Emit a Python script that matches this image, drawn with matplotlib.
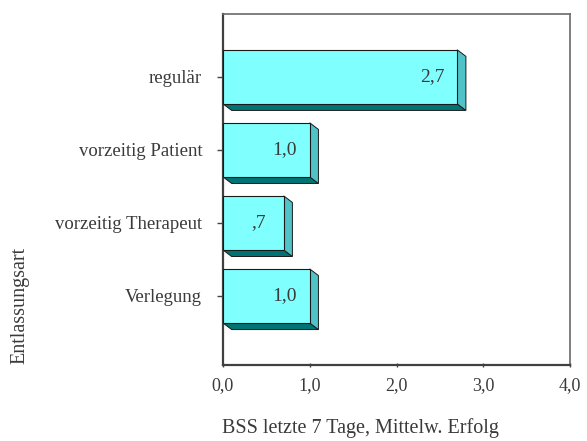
import matplotlib
matplotlib.use("Agg")
import matplotlib.pyplot as plt
from matplotlib.patches import Polygon

# Mittelwerte BSS je Entlassungsart
categories = ["regulär", "vorzeitig Patient", "vorzeitig Therapeut", "Verlegung"]
values = [2.7, 1.0, 0.7, 1.0]
labels = ["2,7", "1,0", ",7", "1,0"]
xticks = [0.0, 1.0, 2.0, 3.0, 4.0]
xticklabels = ["0,0", "1,0", "2,0", "3,0", "4,0"]

plt.rcParams['font.family'] = ['Liberation Serif', 'DejaVu Serif']
textcol = '#3a3a3a'

fig = plt.figure(figsize=(5.87, 4.41), dpi=100)
ax = fig.add_axes([223/587, 1 - 365/441, 347/587, 351/441])

pos = list(range(len(categories)))[::-1]
h = 0.74
dx, dy = 0.1, 0.09   # Tiefe der 3D-Balken

for y, v, lab in zip(pos, values, labels):
    top, bot = y + h/2, y - h/2
    # Unterseite
    ax.add_patch(Polygon([(0, bot), (v, bot), (v + dx, bot - dy), (dx, bot - dy)],
                         closed=True, facecolor='#007474', edgecolor='#1a1a1a',
                         linewidth=0.7, zorder=2))
    # rechte Seite
    ax.add_patch(Polygon([(v, top), (v + dx, top - dy), (v + dx, bot - dy), (v, bot)],
                         closed=True, facecolor='#4fc3c8', edgecolor='#1a1a1a',
                         linewidth=0.7, zorder=2))
    ax.barh(y, v, height=h, color='#80ffff', edgecolor='#1a1a1a',
            linewidth=0.8, zorder=3)
    ax.text(v - 0.29, y, lab, ha='center', va='center', fontsize=14,
            color=textcol, zorder=4)

ax.set_xlim(0, 4)
ax.set_ylim(-0.945, 3.86)
ax.set_xticks(xticks)
ax.set_xticklabels(xticklabels, fontsize=13, color=textcol)
ax.set_yticks(pos)
ax.set_yticklabels(categories, fontsize=13.5, color=textcol)
ax.tick_params(axis='y', length=4, width=1, color='#444444', pad=11)
ax.tick_params(axis='x', length=3, width=1, color='#444444', pad=7, direction='inout')

for side in ['left', 'bottom']:
    ax.spines[side].set_linewidth(1.6)
    ax.spines[side].set_color('#404040')
for side in ['top', 'right']:
    ax.spines[side].set_linewidth(1.2)
    ax.spines[side].set_color('#6a6a6a')

fig.text(20/587, 1 - 305/441, "Entlassungsart", rotation=90, ha='center',
         va='center', fontsize=14.5, color=textcol)
fig.text(360/587, 1 - 428/441, "BSS letzte 7 Tage, Mittelw. Erfolg",
         ha='center', va='center', fontsize=14.5, color=textcol)

fig.savefig("out.png", dpi=100)
